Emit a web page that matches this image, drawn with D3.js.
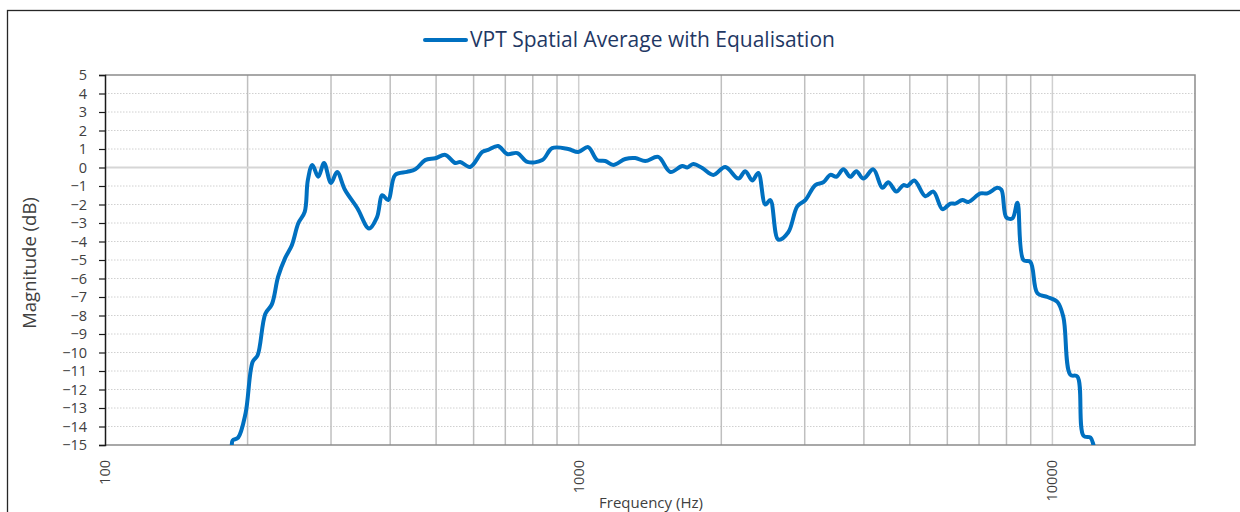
<!DOCTYPE html>
<html>
<head>
<meta charset="utf-8">
<script src="https://cdn.jsdelivr.net/npm/d3@7"></script>
<style>
  body { margin: 0; background: #fff; }
  text { font-family: "Open Sans", sans-serif; }
</style>
</head>
<body>
<div id="chart"></div>
<script>
// Chart canvas
const width = 1240,
  height = 512

// Plot area
const plot = { left: 105, right: 1195, top: 75, bottom: 445 }

// Series: VPT spatial average with equalisation
const seriesName = 'VPT Spatial Average with Equalisation'
const freqs = [180, 185, 186, 191, 198, 205, 210, 218, 225, 232, 240, 248, 256, 264, 268,
  274, 282, 290, 300, 309, 321, 341, 361, 375, 385, 396, 410, 434, 452, 474,
  498, 523, 549, 562, 590, 626, 644, 676, 706, 742, 779, 838, 879, 950, 998,
  1047, 1094, 1138, 1183, 1254, 1316, 1382, 1472, 1561, 1654, 1695, 1745, 1823, 1924, 2039,
  2173, 2247, 2325, 2394, 2477, 2538, 2639, 2770, 2894, 3009, 3159, 3284, 3398, 3499, 3620,
  3745, 3856, 3989, 4188, 4375, 4505, 4684, 4846, 4942, 5112, 5392, 5606, 5859, 6091, 6240,
  6456, 6647, 7046, 7290, 7653, 7804, 7995, 8233, 8436, 8685, 8985, 9297, 9759, 10250, 10550,
  10910, 11290, 11630, 12030, 12210, 12500]
const magnitudes = [-16.5, -15.1, -14.75, -14.6, -13.3, -10.5, -10.15, -7.9, -7.4, -5.9, -4.9, -4.2, -3.0, -2.4, -0.7,
  0.14, -0.5, 0.24, -0.84, -0.24, -1.2, -2.2, -3.3, -2.7, -1.5, -1.76, -0.4, -0.24, -0.1, 0.4,
  0.5, 0.68, 0.24, 0.3, 0.03, 0.84, 0.95, 1.16, 0.73, 0.78, 0.3, 0.4, 1.05, 1.0, 0.84,
  1.1, 0.4, 0.35, 0.14, 0.46, 0.51, 0.35, 0.57, -0.24, 0.08, 0.0, 0.19, -0.03, -0.4, 0.03,
  -0.6, -0.2, -0.7, -0.3, -2.0, -1.76, -3.9, -3.5, -2.1, -1.76, -0.95, -0.8, -0.4, -0.5, -0.1,
  -0.5, -0.2, -0.6, -0.1, -1.1, -0.8, -1.3, -0.95, -1.0, -0.7, -1.55, -1.3, -2.25, -1.95, -1.95,
  -1.76, -1.86, -1.4, -1.4, -1.1, -1.2, -2.7, -2.75, -1.9, -5.0, -5.1, -6.8, -7.0, -7.27, -8.1,
  -11.2, -11.3, -14.5, -14.6, -15.0, -16.5]

// Axis ticks
const yTicks = d3.range(-15, 6, 1)
const xTickLabels = [100, 1000, 10000]
const xGrid = [200, 300, 400, 500, 600, 700, 800, 900, 1000,
  2000, 3000, 4000, 5000, 6000, 7000, 8000, 9000, 10000]

const data = freqs.map((f, i) => ({ f: f, v: magnitudes[i] }))

let svg = d3.select('#chart')
  .append('svg')
  .attr('width', width)
  .attr('height', height)

// Outer chart frame (runs off the page right and bottom)
svg.append('rect')
  .attr('x', 7.5).attr('y', 10.5)
  .attr('width', 1300).attr('height', 600)
  .attr('fill', 'none')
  .attr('stroke', '#262626')
  .attr('stroke-width', 1.3)

const xScale = d3.scaleLog()
  .domain([100, 20000])
  .range([plot.left, plot.right])

const yScale = d3.scaleLinear()
  .domain([-15, 5])
  .range([plot.bottom, plot.top])

// horizontal dotted gridlines
svg.append('g')
  .selectAll('line')
  .data(yTicks.filter(d => d !== 0 && d !== 5 && d !== -15))
  .enter()
  .append('line')
  .attr('x1', plot.left).attr('x2', plot.right)
  .attr('y1', d => yScale(d)).attr('y2', d => yScale(d))
  .attr('stroke', '#d0d0d0')
  .attr('stroke-width', 1)
  .attr('stroke-dasharray', '1.5,1.5')

// vertical gridlines
svg.append('g')
  .selectAll('line')
  .data(xGrid)
  .enter()
  .append('line')
  .attr('x1', d => xScale(d)).attr('x2', d => xScale(d))
  .attr('y1', plot.top).attr('y2', plot.bottom)
  .attr('stroke', d => (d === 1000 || d === 10000) ? '#cfcfcf' : '#bfbfbf')
  .attr('stroke-width', 1.5)

// zero line
svg.append('line')
  .attr('x1', plot.left).attr('x2', plot.right)
  .attr('y1', yScale(0)).attr('y2', yScale(0))
  .attr('stroke', '#d6d6d6')
  .attr('stroke-width', 2)

// plot border top / bottom / right
svg.append('path')
  .attr('d', `M${plot.left},${plot.top}H${plot.right}V${plot.bottom}H${plot.left}`)
  .attr('fill', 'none')
  .attr('stroke', '#8c8c8c')
  .attr('stroke-width', 1.5)

// the curve
svg.append('defs').append('clipPath')
  .attr('id', 'clip')
  .append('rect')
  .attr('x', plot.left).attr('y', plot.top - 5)
  .attr('width', plot.right - plot.left).attr('height', plot.bottom - plot.top + 5)

const line = d3.line()
  .x(d => xScale(d.f))
  .y(d => yScale(d.v))
  .curve(d3.curveCatmullRom.alpha(0.5))

svg.append('path')
  .datum(data)
  .attr('clip-path', 'url(#clip)')
  .attr('d', line)
  .attr('fill', 'none')
  .attr('stroke', '#0070c0')
  .attr('stroke-width', 4)
  .attr('stroke-linejoin', 'round')

// y axis
let axisY = d3.axisLeft(yScale)
  .tickValues(yTicks)
  .tickSize(6)
  .tickPadding(12)
  .tickFormat(d3.format('d'))

let gY = svg.append('g')
  .attr('transform', `translate(${plot.left}, 0)`)
  .call(axisY)
gY.select('.domain').attr('stroke', '#1a1a1a').attr('stroke-width', 1.5)
gY.selectAll('.tick line').attr('stroke', '#1a1a1a').attr('stroke-width', 1.2)
gY.selectAll('.tick text')
  .attr('fill', '#404040')
  .style('font-size', '14.5px')
  .style('font-family', '"Open Sans", sans-serif')

// x tick labels (rotated)
svg.append('g')
  .selectAll('text')
  .data(xTickLabels)
  .enter()
  .append('text')
  .attr('transform', d => `translate(${xScale(d) + 5}, 460) rotate(-90)`)
  .attr('text-anchor', 'end')
  .attr('fill', '#404040')
  .style('font-size', '14.5px')
  .text(d => d)

// axis titles
svg.append('text')
  .attr('transform', 'translate(36, 263) rotate(-90)')
  .attr('text-anchor', 'middle')
  .attr('fill', '#404040')
  .style('font-size', '18.5px')
  .text('Magnitude (dB)')

svg.append('text')
  .attr('x', 651).attr('y', 508)
  .attr('text-anchor', 'middle')
  .attr('fill', '#404040')
  .style('font-size', '15px')
  .text('Frequency (Hz)')

// legend
svg.append('line')
  .attr('x1', 425).attr('x2', 466)
  .attr('y1', 40).attr('y2', 40)
  .attr('stroke', '#0070c0')
  .attr('stroke-width', 4)
  .attr('stroke-linecap', 'round')

svg.append('text')
  .attr('x', 470).attr('y', 47)
  .attr('fill', '#1f3864')
  .style('font-size', '21px')
  .text(seriesName)
</script>
</body>
</html>
